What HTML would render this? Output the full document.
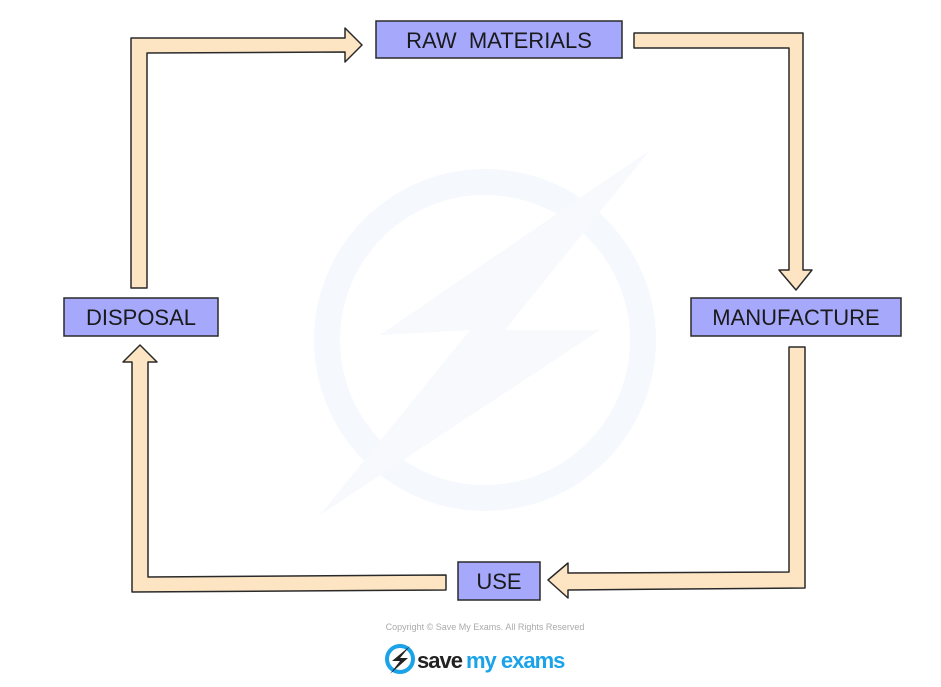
<!DOCTYPE html>
<html><head><meta charset="utf-8"><style>
body{margin:0;background:#fff;width:941px;height:687px;overflow:hidden}
svg{display:block}
text{font-family:"Liberation Sans",sans-serif}
</style></head><body>
<svg width="941" height="687" viewBox="0 0 941 687">
<!-- watermark -->
<circle cx="485" cy="340" r="158" fill="none" stroke="#f5f8fc" stroke-width="26"/>
<polygon points="650,150 380,335 470,330 320,515 600,330 505,330" fill="#f7f9fc"/>
<g fill="#fde5c4" stroke="#2a2a2a" stroke-width="1.5" stroke-linejoin="round">
<polygon points="131,288 147,288 147,53 345,52 345,62 362,45 345,28 345,38 131,38"/>
<polygon points="634,33 803,33 803,270 812,270 796,290 779,270 789,270 789,48 634,48"/>
<polygon points="789,347 805,347 805,588 568,590 568,598 548,580 568,563 568,573 789,572"/>
<polygon points="446,575 446,590 132,592 132,362 123,362 140,345 157,362 148,362 148,577"/>
</g>
<g fill="#a6a8fc" stroke="#2a2a2a" stroke-width="1.5">
<rect x="376" y="21" width="246" height="37"/>
<rect x="691" y="298" width="210" height="38"/>
<rect x="458" y="562" width="82" height="38"/>
<rect x="64" y="298" width="154" height="38"/>
</g>
<g fill="#1a1a1a" font-size="22" text-anchor="middle">
<text x="499" y="48" xml:space="preserve">RAW  MATERIALS</text>
<text x="796" y="325">MANUFACTURE</text>
<text x="499" y="589">USE</text>
<text x="141" y="325">DISPOSAL</text>
</g>
<text x="485" y="630" font-size="9" fill="#aaa" text-anchor="middle">Copyright © Save My Exams. All Rights Reserved</text>
<circle cx="400" cy="659" r="13" fill="none" stroke="#1aa3e8" stroke-width="4"/>
<polygon points="410,646 392,661 400,661 390,674 408,658 400,658" fill="#222"/>
<text x="417" y="668" font-size="22" font-weight="bold" fill="#222" letter-spacing="-1">save</text>
<text x="466" y="668" font-size="22" font-weight="bold" fill="#1aa3e8" letter-spacing="-1">my exams</text>
</svg>
</body></html>
